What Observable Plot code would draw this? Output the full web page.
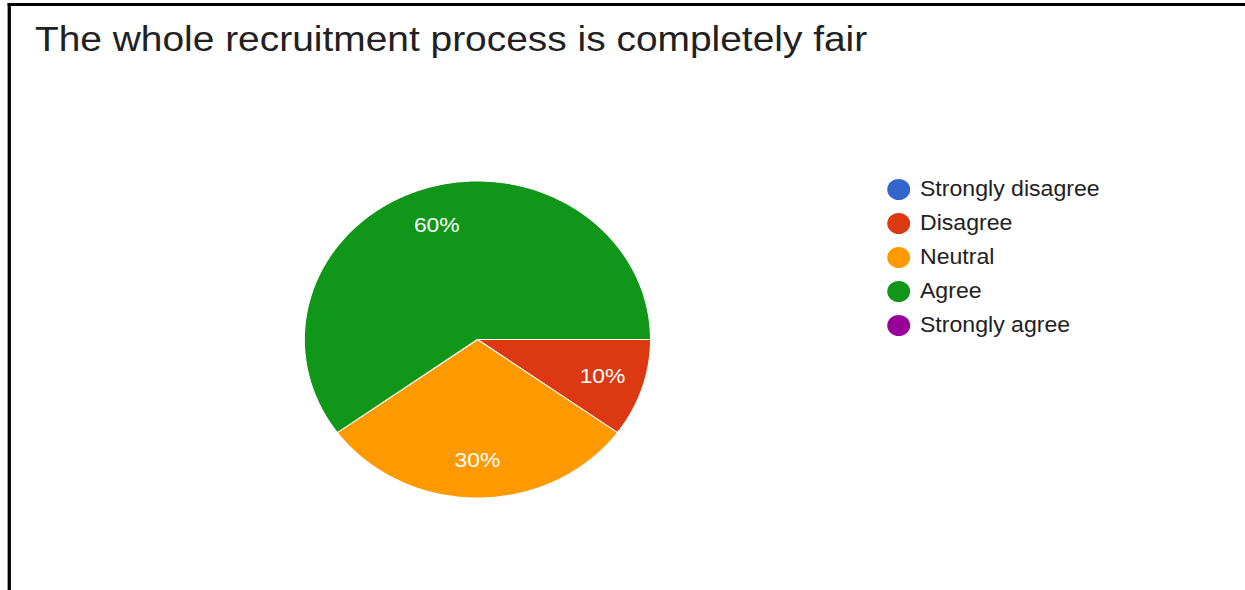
<!DOCTYPE html>
<html>
<head>
<meta charset="utf-8">
<script src="https://cdn.jsdelivr.net/npm/d3@7"></script>
<script src="https://cdn.jsdelivr.net/npm/@observablehq/plot@0.6"></script>
<style>
  html, body { margin: 0; padding: 0; background: #fff; }
  body { width: 1245px; height: 590px; overflow: hidden; position: relative; }
  #stretch {
    position: absolute; left: 0; top: 0;
    width: 1142px; height: 590px;
    transform: scaleX(1.09); transform-origin: 0 0;
    font-family: "Liberation Sans", Arial, sans-serif;
  }
  #frame {
    position: absolute; left: 7px; top: 3px; width: 1200px; height: 700px;
    border-left: 3px solid #000; border-top: 3px solid #000;
  }
  #title {
    position: absolute; left: 32px; top: 22px;
    font-size: 35.7px; line-height: 35px; color: #212121; white-space: nowrap;
  }
  #legend { position: absolute; left: 814px; top: 172px; }
  .item { display: flex; align-items: center; height: 34px; font-size: 21.2px; color: #222; white-space: nowrap; }
  .dot { width: 21px; height: 21px; border-radius: 50%; margin-right: 9px; flex: none; }
  #chart { position: absolute; left: 0; top: 0; }
</style>
</head>
<body>
<div id="stretch">
  <div id="frame"></div>
  <div id="chart"></div>
  <div id="title"></div>
  <div id="legend"></div>
</div>
<script>
const title = "The whole recruitment process is completely fair";
const categories = ["Strongly disagree", "Disagree", "Neutral", "Agree", "Strongly agree"];
const values = [0, 10, 30, 60, 0];
const colors = ["#3366cc", "#dc3912", "#ff9900", "#109618", "#990099"];

document.getElementById("title").textContent = title;

const legend = document.getElementById("legend");
categories.forEach((c, i) => {
  const row = document.createElement("div");
  row.className = "item";
  const d = document.createElement("span");
  d.className = "dot";
  d.style.background = colors[i];
  const t = document.createElement("span");
  t.textContent = c;
  row.appendChild(d); row.appendChild(t);
  legend.appendChild(row);
});

const table = categories.map((c, i) => ({category: c, value: values[i], color: colors[i]}));
const total = d3.sum(values);
const arcs = d3.pie().value(d => d.value).sort(null)
  .startAngle(Math.PI / 2).endAngle(Math.PI / 2 + 2 * Math.PI)(table)
  .filter(a => a.data.value > 0);

// polygon outline of each slice, in unit-circle coordinates
const sliceMarks = arcs.map(a => {
  const n = Math.max(2, Math.ceil((a.endAngle - a.startAngle) / 0.01));
  const pts = [{x: 0, y: 0}];
  for (let k = 0; k <= n; k++) {
    const t = a.startAngle + (a.endAngle - a.startAngle) * k / n;
    pts.push({x: Math.sin(t), y: Math.cos(t)});
  }
  pts.push({x: 0, y: 0});
  return Plot.line(pts, {x: "x", y: "y", fill: a.data.color, stroke: "white", strokeWidth: 1, strokeLinejoin: "round"});
});

const labels = arcs.map(a => {
  const m = (a.startAngle + a.endAngle) / 2;
  return {x: 0.76 * Math.sin(m), y: 0.76 * Math.cos(m), text: Math.round(a.data.value / total * 100) + "%"};
});

const chart = Plot.plot({
  width: 1142,
  height: 590,
  margin: 0,
  style: {background: "transparent", overflow: "visible"},
  x: {domain: [-1, 1], range: [278.7, 596.3], axis: null},
  y: {domain: [-1, 1], range: [497.5, 180.5], axis: null},
  marks: [
    ...sliceMarks,
    Plot.text(labels, {x: "x", y: "y", text: "text", fill: "white", fontSize: 21,
      fontFamily: "Liberation Sans, Arial, sans-serif", textAnchor: "middle", lineAnchor: "middle"})
  ]
});
document.getElementById("chart").appendChild(chart);
</script>
</body>
</html>
